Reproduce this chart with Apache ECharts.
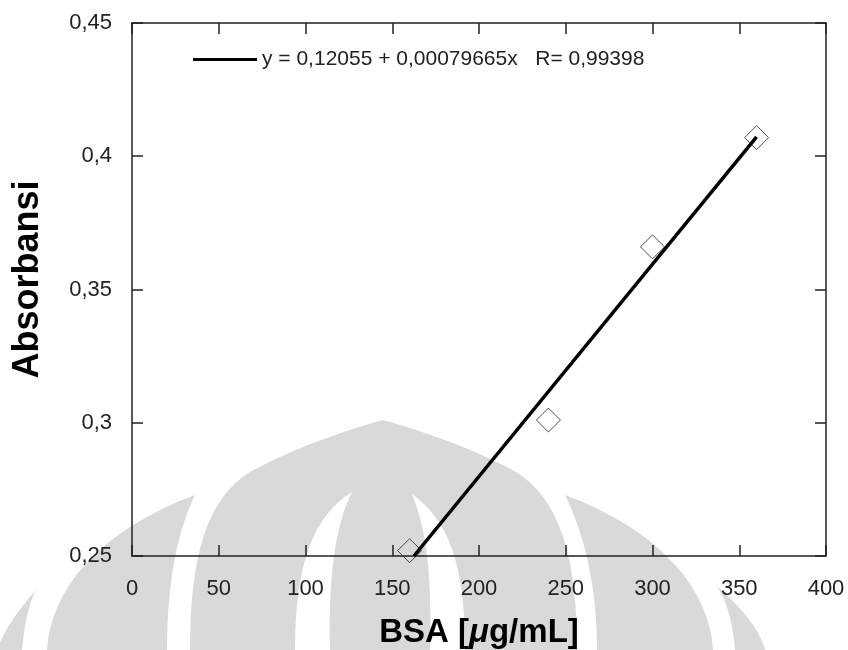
<!DOCTYPE html>
<html>
<head>
    <meta charset="utf-8">
    <title>BSA standard curve</title>
    <script src="https://cdn.jsdelivr.net/npm/echarts@6/dist/echarts.min.js"></script>
</head>
<body style="margin:0">
<div id="main" style="width: 848px;height:650px;"></div>
<script type="text/javascript">
    // data
    var bsa = [160, 240, 300, 360];
    var absorbansi = [0.252, 0.301, 0.366, 0.407];
    // regression line ends
    var fitX = [162.5, 360];
    var fitY = [0.25, 0.4073];
    var fitName = 'y = 0,12055 + 0,00079665x   R= 0,99398';

    var points = bsa.map(function (x, i) { return [x, absorbansi[i]]; });
    var fitLine = fitX.map(function (x, i) { return [x, fitY[i]]; });

    // background watermark (logo), built from cubic curves
    function shape(start, segs) {
        var pts = [start], cur = start;
        segs.forEach(function (s) {
            if (typeof s[0] === 'number') { pts.push(s); cur = s; return; }
            for (var i = 1; i <= 16; i++) {
                var t = i / 16, u = 1 - t;
                pts.push([
                    u*u*u*cur[0] + 3*u*u*t*s[0][0] + 3*u*t*t*s[1][0] + t*t*t*s[2][0],
                    u*u*u*cur[1] + 3*u*u*t*s[0][1] + 3*u*t*t*s[1][1] + t*t*t*s[2][1]
                ]);
            }
            cur = s[2];
        });
        return pts;
    }
    var gray = '#d9d9d9';
    var marks = [
        [gray, shape([190, 650], [[[190, 560], [205, 500], [250, 472]], [[290, 450], [340, 432], [383, 420]],
                                  [[426, 432], [476, 450], [516, 472]], [[561, 500], [577, 560], [577, 650]]])],
        ['#fff', shape([352, 492], [[[315, 515], [295, 560], [295, 650]], [330, 650], [[328, 580], [335, 525], [352, 492]]])],
        ['#fff', shape([412, 494], [[[447, 520], [465, 560], [465, 650]], [430, 650], [[432, 580], [427, 530], [412, 494]]])],
        [gray, shape([195, 495], [[[178, 530], [167, 580], [167, 650]], [47, 650], [[50, 590], [100, 530], [195, 495]]])],
        [gray, shape([565, 495], [[[582, 530], [597, 580], [597, 650]], [713, 650], [[710, 590], [660, 530], [565, 495]]])],
        [gray, shape([36, 590], [[[20, 608], [5, 628], [-3, 650]], [22, 650], [[24, 628], [28, 605], [36, 590]]])],
        [gray, shape([716, 585], [[[738, 605], [758, 625], [765, 650]], [735, 650], [[733, 625], [727, 600], [716, 585]]])]
    ];
    var graphics = marks.map(function (m) {
        return { type: 'polygon', z: -1, silent: true, shape: { points: m[1] }, style: { fill: m[0] } };
    });

    var axisLine = { onZero: false, lineStyle: { color: '#222', width: 1.5 } };
    var axisTick = { inside: true, length: 11, lineStyle: { color: '#222', width: 1.5 } };
    var labelColor = '#222';

    var myChart = echarts.init(document.getElementById('main'));
    var option = {
        backgroundColor: '#fff',
        textStyle: { fontFamily: 'Liberation Sans' },
        graphic: graphics,
        grid: { left: 132, right: 22, top: 23, bottom: 94, containLabel: false, outerBoundsMode: 'none' },
        legend: {
            left: 188, top: 44,
            data: [fitName],
            icon: 'rect', itemWidth: 64, itemHeight: 3,
            textStyle: { fontSize: 21, color: labelColor }
        },
        xAxis: [{
            type: 'value', min: 0, max: 400, interval: 50,
            axisLine: axisLine, axisTick: axisTick, splitLine: { show: false },
            axisLabel: { fontSize: 22, color: labelColor, margin: 22 },
            name: '{b|BSA [}{i|\u03bc}{b|g/mL]}',
            nameLocation: 'middle', nameGap: 60,
            nameTextStyle: {
                rich: {
                    b: { fontSize: 33, fontWeight: 'bold', color: '#000' },
                    i: { fontSize: 33, fontWeight: 'bold', fontStyle: 'italic', color: '#000' }
                }
            }
        }, {
            type: 'value', position: 'top', min: 0, max: 400, interval: 50,
            axisLine: axisLine, axisTick: axisTick, splitLine: { show: false },
            axisLabel: { show: false }
        }],
        yAxis: [{
            type: 'value', min: 0.25, max: 0.45, interval: 0.05,
            axisLine: axisLine, axisTick: axisTick, splitLine: { show: false },
            axisLabel: {
                fontSize: 22, color: labelColor, margin: 20,
                formatter: function (v) { return String(+v.toFixed(2)).replace('.', ','); }
            },
            name: 'Absorbansi',
            nameLocation: 'middle', nameGap: 86,
            nameTextStyle: { fontSize: 36, fontWeight: 'bold', color: '#000', padding: [0, 0, 0, 20] }
        }, {
            type: 'value', position: 'right', min: 0.25, max: 0.45, interval: 0.05,
            axisLine: axisLine, axisTick: axisTick, splitLine: { show: false },
            axisLabel: { show: false }
        }],
        series: [{
            name: 'data',
            type: 'scatter',
            data: points,
            symbol: 'diamond',
            symbolSize: 24,
            itemStyle: { color: 'rgba(0,0,0,0)', borderColor: '#222', borderWidth: 1 }
        }, {
            name: fitName,
            type: 'line',
            data: fitLine,
            symbol: 'none',
            color: '#000',
            lineStyle: { color: '#000', width: 3.5 }
        }]
    };
    myChart.setOption(option);
</script>
</body>
</html>
